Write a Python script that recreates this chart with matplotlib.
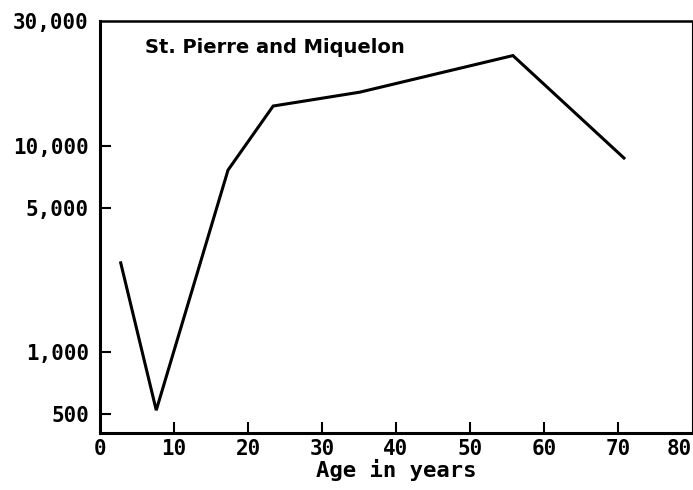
import matplotlib
matplotlib.use('Agg')
import matplotlib.pyplot as plt

# ages (years) and values (log scale)
ages = [2.8, 7.6, 17.3, 23.4, 35.1, 55.8, 70.8]
values = [2700, 520, 7620, 15590, 18200, 27400, 8720]

x_ticks = [0, 10, 20, 30, 40, 50, 60, 70, 80]
y_ticks = [500, 1000, 5000, 10000]
y_tick_labels = ['500', '1,000', '5,000', '10,000']
y_top, y_top_label = 40300, '30,000'
y_bottom = 403

label_font = ['DejaVu Sans Mono']

fig = plt.figure(figsize=(6.93, 4.90), dpi=100)
ax = fig.add_axes([0.1443, 0.1163, 0.8543, 0.8407])

ax.plot(ages, values, color='black', linewidth=2.2, solid_joinstyle='miter')

ax.set_yscale('log')
ax.set_xlim(0, 80)
ax.set_ylim(y_bottom, y_top)

ax.set_xticks(x_ticks)
ax.set_xticklabels([str(t) for t in x_ticks], family=label_font,
                   fontweight='bold', fontsize=15)
ax.set_yticks(y_ticks + [y_top])
ax.set_yticklabels(y_tick_labels + [y_top_label], family=label_font,
                   fontweight='bold', fontsize=15)
ax.minorticks_off()
# last x label sits inside the right edge
ax.get_xticklabels()[-1].set_horizontalalignment('right')

ax.tick_params(axis='both', direction='in', length=8, width=1.5, color='black')
ax.tick_params(axis='y', pad=8)
ax.tick_params(axis='x', pad=4)
# no tick marks at the corners / top label
ax.yaxis.get_major_ticks()[-1].tick1line.set_visible(False)
ax.xaxis.get_major_ticks()[0].tick1line.set_visible(False)
ax.xaxis.get_major_ticks()[-1].tick1line.set_visible(False)

ax.spines['left'].set_linewidth(2.2)
ax.spines['bottom'].set_linewidth(2.2)
ax.spines['top'].set_linewidth(1.8)
ax.spines['right'].set_linewidth(0.8)

ax.text(0.076, 0.935, 'St. Pierre and Miquelon', transform=ax.transAxes,
        family=['DejaVu Sans'], fontweight='bold', fontsize=14,
        ha='left', va='center')

ax.set_xlabel('Age in years', family=label_font, fontweight='bold',
              fontsize=16, labelpad=0)

fig.savefig('out.png', dpi=100)
